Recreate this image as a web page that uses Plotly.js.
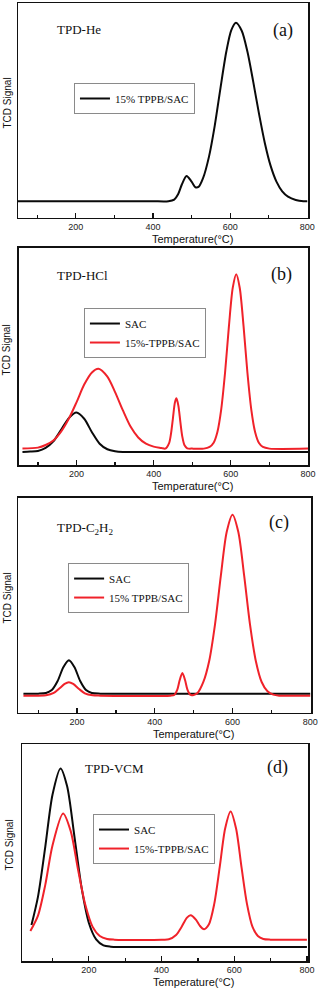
<!DOCTYPE html>
<html>
<head>
<meta charset="utf-8">
<script src="https://cdn.plot.ly/plotly-3.0.1.min.js"></script>
<style>
  html, body { margin: 0; padding: 0; background: #fff; }
  #chart { width: 320px; height: 989px; }
</style>
</head>
<body>
<div id="chart"></div>
<script>
// TPD profiles, values (arbitrary TCD units)

// (a) TPD-He
var tempA = [50, 100, 150, 200, 250, 300, 350, 400, 440, 455, 465, 475, 487, 500, 510, 518, 530, 545, 560, 575, 590, 603, 615, 630, 645, 660, 675, 690, 705, 720, 735, 750, 770, 790, 800];
var heA = [0, 0, 0, 0, 0, 0, 0, 0, 0, 5, 21, 51, 76, 59, 42, 43, 70, 133, 226, 340, 448, 513, 535, 511, 447, 357, 261, 174, 106, 59, 30, 14, 4, 0, 0];

// (b) TPD-HCl
var tempB1 = [60, 80, 100, 120, 140, 160, 180, 200, 220, 240, 260, 280, 300, 320, 400, 500, 600, 700, 800];
var hclSac = [0, 1, 3, 12, 32, 67, 103, 120, 101, 60, 25, 8, 2, 0, 0, 0, 0, 0, 0];
var tempB2 = [60, 100, 120, 140, 160, 180, 200, 220, 240, 257, 280, 300, 320, 340, 360, 380, 400, 420, 430, 440, 445, 450, 455, 459, 464, 469, 474, 480, 487, 500, 530, 545, 555, 565, 575, 585, 595, 605, 614, 623, 633, 643, 653, 663, 673, 683, 700, 800];
var hclTppb = [10, 13, 21, 35, 62, 101, 151, 205, 242, 253, 229, 182, 127, 77, 44, 25, 16, 12, 10, 27, 56, 103, 150, 163, 141, 93, 48, 20, 11, 10, 10, 15, 27, 60, 129, 241, 382, 500, 541, 500, 382, 241, 129, 60, 27, 15, 10, 10];

// (c) TPD-C2H2
var tempC1 = [62, 100, 120, 135, 150, 165, 179, 193, 208, 223, 238, 260, 400, 600, 800];
var c2h2Sac = [6, 6, 8, 17, 44, 86, 106, 86, 44, 17, 8, 6, 6, 6, 6];
var tempC2 = [62, 120, 140, 155, 168, 179, 190, 205, 220, 240, 260, 440, 450, 458, 464, 471, 478, 484, 492, 500, 510, 525, 540, 555, 570, 585, 600, 615, 630, 645, 660, 675, 690, 705, 720, 800];
var c2h2Tppb = [0, 1, 8, 22, 35, 40, 35, 20, 7, 1, 0, 0, 2, 18, 46, 68, 46, 18, 2, 2, 8, 41, 104, 214, 360, 491, 543, 491, 360, 214, 104, 41, 13, 3, 0, 0];

// (d) TPD-VCM
var tempD1 = [42, 60, 80, 100, 122, 140, 160, 180, 200, 220, 240, 260, 280, 400, 600, 800];
var vcmSac = [66, 151, 300, 457, 535, 482, 333, 177, 72, 23, 5, 1, 0, 0, 0, 0];
var tempD2 = [39, 60, 80, 100, 129, 150, 170, 190, 210, 230, 250, 270, 400, 420, 440, 455, 470, 480, 495, 505, 517, 530, 545, 560, 575, 590, 605, 620, 635, 650, 665, 680, 700, 800];
var vcmTppb = [48, 94, 186, 305, 400, 347, 233, 127, 61, 33, 24, 22, 22, 23, 36, 60, 88, 95, 81, 64, 53, 67, 129, 239, 355, 406, 355, 239, 129, 61, 33, 24, 22, 22];

var majorTicks = [200, 400, 600, 800];
var minorTicks = [100, 300, 500, 700];

var BLACK = '#0a0a0a';
var RED = '#f0222a';

function curve(x, y, name, color, n, legendId, show) {
    return {
        x: x, y: y, name: name,
        type: 'scatter', mode: 'lines',
        line: {color: color, width: 2, shape: 'spline', smoothing: 0.8},
        xaxis: 'x' + (n > 1 ? n : ''),
        yaxis: 'y' + (n > 1 ? n : ''),
        legend: legendId,
        showlegend: show
    };
}

var data = [
    curve(tempA, heA, '15% TPPB/SAC', BLACK, 1, 'legend', true),
    curve(tempB1, hclSac, 'SAC', BLACK, 2, 'legend2', true),
    curve(tempB2, hclTppb, '15%-TPPB/SAC', RED, 2, 'legend2', true),
    curve(tempC1, c2h2Sac, 'SAC', BLACK, 3, 'legend3', true),
    curve(tempC2, c2h2Tppb, '15% TPPB/SAC', RED, 3, 'legend3', true),
    curve(tempD1, vcmSac, 'SAC', BLACK, 4, 'legend4', true),
    curve(tempD2, vcmTppb, '15%-TPPB/SAC', RED, 4, 'legend4', true)
];

function xax(range, domain, anchor) {
    return {
        range: range, domain: domain, anchor: anchor,
        showline: true, mirror: true, linecolor: '#111', linewidth: 1.5,
        showgrid: false, zeroline: false,
        ticks: 'inside', ticklen: 5, tickwidth: 1.2, tickcolor: '#111',
        tickvals: majorTicks,
        tickfont: {family: 'Liberation Sans', size: 9, color: '#222'},
        minor: {tickvals: minorTicks, ticks: 'inside', ticklen: 3, tickwidth: 1.2, tickcolor: '#111'}
    };
}

function yax(range, domain, anchor) {
    return {
        range: range, domain: domain, anchor: anchor,
        showline: true, mirror: true, linecolor: '#111', linewidth: 1.5,
        showgrid: false, zeroline: false, ticks: '', showticklabels: false
    };
}

function legendBox(x, y) {
    return {
        x: x, y: y, xanchor: 'left', yanchor: 'top',
        bgcolor: 'rgba(255,255,255,0)', bordercolor: '#8a8a8a', borderwidth: 1,
        font: {family: 'Liberation Serif', size: 11, color: '#111'},
        itemwidth: 30, tracegroupgap: 0
    };
}

var serif = 'Liberation Serif';
var sans = 'Liberation Sans';
var annotations = [];
var panels = [
    {n: '', name: 'TPD-He', tag: '(a)', nx: 0.128, ny: 0.879, tx: 0.914, ty: 0.874, yx: -11},
    {n: '2', name: 'TPD-HCl', tag: '(b)', nx: 0.124, ny: 0.871, tx: 0.907, ty: 0.880, yx: -12},
    {n: '3', name: 'TPD-C<sub>2</sub>H<sub>2</sub>', tag: '(c)', nx: 0.126, ny: 0.860, tx: 0.891, ty: 0.888, yx: -11},
    {n: '4', name: 'TPD-VCM', tag: '(d)', nx: 0.213, ny: 0.889, tx: 0.892, ty: 0.894, yx: -13}
];
panels.forEach(function (p) {
    var xr = 'x' + p.n + ' domain', yr = 'y' + p.n + ' domain';
    annotations.push({xref: xr, yref: yr, x: p.nx, y: p.ny, xanchor: 'left', yanchor: 'middle',
        text: p.name, showarrow: false, font: {family: serif, size: 13, color: '#111'}});
    annotations.push({xref: xr, yref: yr, x: p.tx, y: p.ty, xanchor: 'center', yanchor: 'middle',
        text: p.tag, showarrow: false, font: {family: serif, size: 18, color: '#111'}});
    annotations.push({xref: xr, yref: yr, x: 0.6, y: 0, yshift: -21, xanchor: 'center', yanchor: 'middle',
        text: 'Temperature(°C)', showarrow: false, font: {family: sans, size: 11, color: '#111'}});
    annotations.push({xref: xr, yref: yr, x: 0, xshift: p.yx, y: 0.5, yshift: 7, xanchor: 'center', yanchor: 'middle',
        textangle: -90, text: 'TCD Signal', showarrow: false, font: {family: sans, size: 10, color: '#111'}});
});

var layout = {
    width: 320, height: 989,
    margin: {l: 18, r: 9, t: 3, b: 28},
    paper_bgcolor: '#fff', plot_bgcolor: '#fff',
    font: {family: sans, color: '#111'},
    xaxis: xax([50, 802], [0, 0.99], 'y'),
    yaxis: yax([-50, 594], [0.7756, 1], 'x'),
    xaxis2: xax([51, 800], [0.0034, 0.9898], 'y2'),
    yaxis2: yax([-40, 621], [0.5177, 0.7443], 'x2'),
    xaxis3: xax([48, 802], [0, 1], 'y3'),
    yaxis3: yax([-52, 593], [0.2589, 0.4833], 'x3'),
    xaxis4: xax([16, 803], [0.0137, 0.9898], 'y4'),
    yaxis4: yax([-42, 608], [0, 0.2265], 'x4'),
    legend: legendBox(0.191, 0.9165),
    legend2: legendBox(0.225, 0.6816),
    legend3: legendBox(0.171, 0.4154),
    legend4: legendBox(0.256, 0.1534),
    annotations: annotations
};

Plotly.newPlot('chart', data, layout, {displayModeBar: false, staticPlot: true});
</script>
</body>
</html>
